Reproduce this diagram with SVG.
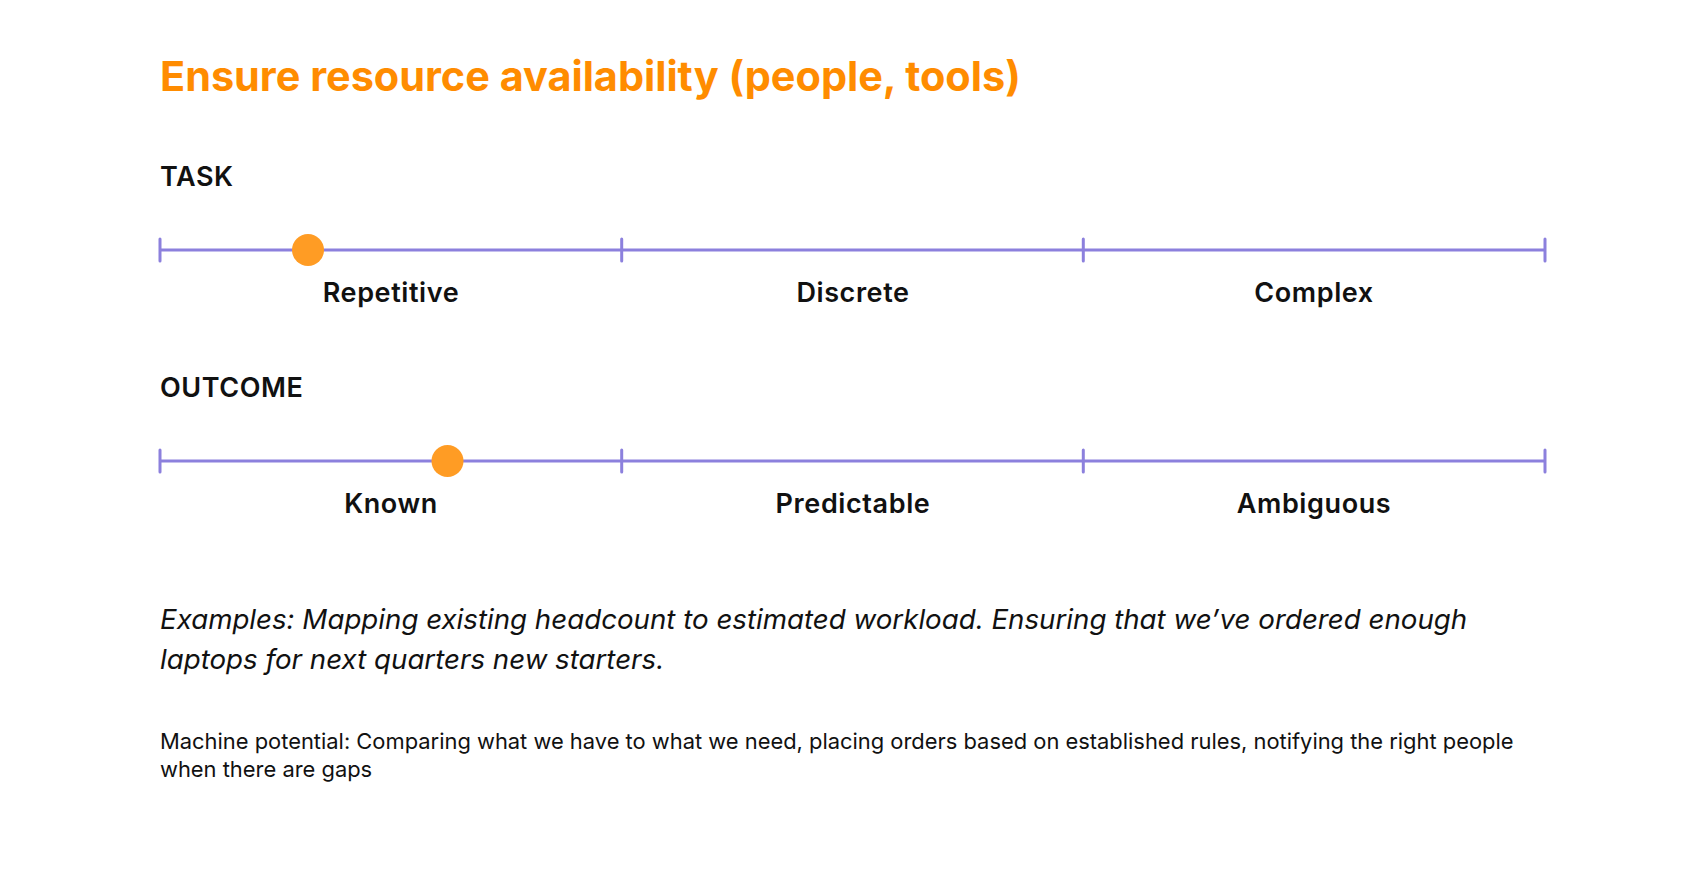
<svg xmlns="http://www.w3.org/2000/svg" width="1706" height="872" viewBox="0 0 1706 872">
<style>
.title{font-family:Inter,"Noto Sans",sans-serif;font-weight:700;font-size:41.4px;fill:#FF8C00}
.head{font-family:Inter,"Noto Sans",sans-serif;font-weight:600;font-size:27px;letter-spacing:0.55px;fill:#111}
.lab{font-family:Inter,"Noto Sans",sans-serif;font-weight:600;font-size:27px;letter-spacing:0.6px;fill:#111;text-anchor:middle}
.ex{font-family:Inter,"Noto Sans",sans-serif;font-style:italic;font-size:27.7px;fill:#111}
.mp{font-family:Inter,"Noto Sans",sans-serif;font-size:21.9px;fill:#111}
.ln{stroke:#8C80DD;stroke-width:3;fill:none;stroke-linecap:round}
.dot{fill:#FF9C24}
</style>
<rect width="1706" height="872" fill="#fff"/>
<text class="title" x="160" y="91">Ensure resource availability (people, tools)</text>
<g id="task">
<text class="head" x="160" y="186">TASK</text>
<g class="connectors">
<path class="ln" d="M160 250H1545M160 239V261M621.7 239V261M1083.3 239V261M1545 239V261"/>
</g>
<circle class="dot" cx="308" cy="250" r="16"/>
<text class="lab" x="391" y="302">Repetitive</text>
<text class="lab" x="853" y="302">Discrete</text>
<text class="lab" x="1314" y="302">Complex</text>
</g>
<g id="outcome">
<text class="head" x="160" y="397">OUTCOME</text>
<g class="connectors">
<path class="ln" d="M160 461H1545M160 450V472M621.7 450V472M1083.3 450V472M1545 450V472"/>
</g>
<circle class="dot" cx="447.5" cy="461" r="16"/>
<text class="lab" x="391" y="513">Known</text>
<text class="lab" x="853" y="513">Predictable</text>
<text class="lab" x="1314" y="513">Ambiguous</text>
</g>
<g id="examples">
<text class="ex" x="160" y="629">Examples: Mapping existing headcount to estimated workload. Ensuring that we’ve ordered enough</text>
<text class="ex" x="160" y="669">laptops for next quarters new starters.</text>
</g>
<g id="machine">
<text class="mp" x="160" y="749">Machine potential: Comparing what we have to what we need, placing orders based on established rules, notifying the right people</text>
<text class="mp" x="160" y="777">when there are gaps</text>
</g>
</svg>
